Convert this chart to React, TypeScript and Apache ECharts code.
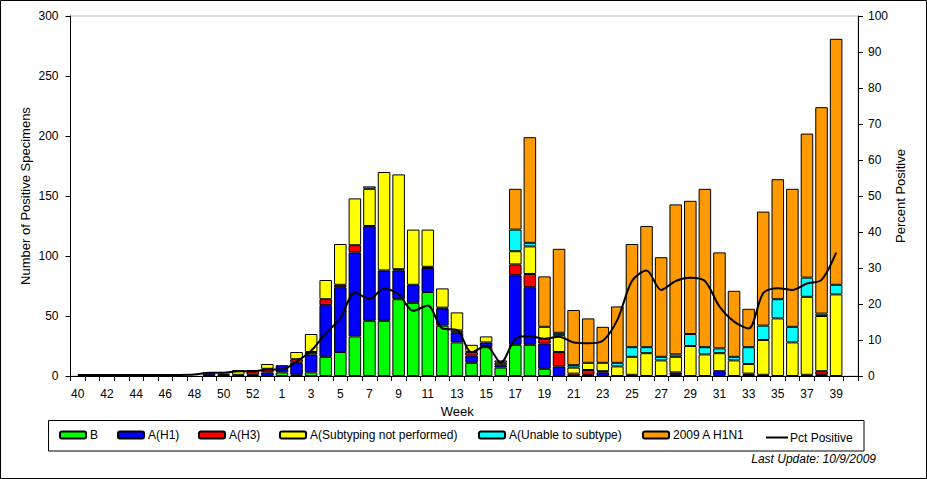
import React, { useEffect, useRef } from "react";
import * as echarts from "echarts";

// Week labels (MMWR weeks 40/2008 .. 39/2009, plus one empty trailing slot)
const weeks = [
  "40", "41", "42", "43", "44", "45", "46", "47", "48", "49", "50", "51", "52", "53",
  "1", "2", "3", "4", "5", "6", "7", "8", "9", "10", "11", "12", "13", "14", "15", "16",
  "17", "18", "19", "20", "21", "22", "23", "24", "25", "26", "27", "28", "29", "30",
  "31", "32", "33", "34", "35", "36", "37", "38", "39", "",
];

// Positive specimens by type (same order as weeks)
const fluB = [
  0, 0, 0, 0, 0, 0, 0, 0, 0, 0, 0, 0, 0, 0,
  3, 1, 3, 16, 20, 33, 46, 46, 64, 61, 70, 42, 28, 11, 24, 7,
  26, 26, 6, 0, 0, 1, 0, 0, 0, 0, 0, 1, 0, 0,
  0, 0, 0, 0, 0, 0, 0, 0, 0,
];
const aH1 = [
  0, 0, 0, 0, 0, 0, 0, 0, 0, 2, 1, 1, 1, 3,
  6, 10, 15, 43, 54, 70, 79, 42, 24, 15, 20, 14, 8, 6, 4, 2,
  58, 48, 21, 8, 0, 0, 3, 0, 1, 0, 0, 2, 0, 0,
  4, 0, 1, 1, 0, 0, 1, 1, 0,
];
const aH3 = [
  0, 0, 0, 0, 0, 0, 0, 0, 0, 0, 0, 0, 3, 3,
  0, 3, 2, 5, 2, 6, 0, 0, 1, 0, 1, 1, 2, 3, 0, 0,
  9, 11, 4, 12, 2, 4, 1, 0, 0, 0, 0, 0, 0, 0,
  0, 0, 1, 0, 0, 0, 0, 3, 0,
];
const aNotSubtyped = [
  0, 0, 0, 0, 0, 0, 0, 0, 0, 1, 1, 4, 1, 4,
  0, 6, 15, 16, 34, 39, 31, 82, 79, 46, 31, 16, 15, 6, 5, 2,
  11, 23, 10, 14, 5, 6, 7, 8, 15, 19, 13, 13, 25, 18,
  15, 13, 8, 29, 48, 28, 65, 46, 68,
];
const aUnable = [
  0, 0, 0, 0, 0, 0, 0, 0, 0, 0, 0, 0, 0, 0,
  0, 0, 0, 0, 0, 0, 2, 0, 0, 0, 0, 0, 0, 0, 0, 0,
  18, 3, 0, 2, 2, 0, 0, 3, 8, 5, 3, 2, 10, 6,
  4, 3, 14, 12, 16, 13, 16, 2, 8,
];
const h1n1_2009 = [
  0, 0, 0, 0, 0, 0, 0, 0, 0, 0, 0, 0, 0, 0,
  0, 0, 0, 0, 0, 0, 0, 0, 0, 0, 0, 0, 0, 0, 0, 2,
  34, 88, 42, 70, 46, 37, 30, 47, 86, 101, 83, 125, 111, 132,
  80, 55, 32, 95, 100, 115, 120, 172, 205,
];
// Percent positive (right axis)
const pctPositive = [
  0.3, 0.3, 0.3, 0.3, 0.3, 0.3, 0.3, 0.3, 0.4, 0.9, 0.9, 1.3, 1.3, 1.8,
  1.8, 4.0, 7.0, 11.8, 16.0, 23.2, 21.4, 24.3, 22.7, 18.1, 19.6, 13.2, 12.8, 6.6, 8.4, 3.7,
  10.3, 11.1, 10.3, 10.9, 9.3, 9.1, 9.8, 15.6, 26.4, 29.3, 23.9, 26.4, 27.3, 26.4,
  19.3, 15.1, 13.2, 23.0, 24.4, 23.9, 25.7, 26.7, 34.3,
];

const FONT = '"Liberation Sans", Arial, sans-serif';

const barDefs = [
  { name: "B", data: fluB, color: "#00FF00" },
  { name: "A(H1)", data: aH1, color: "#0000FF" },
  { name: "A(H3)", data: aH3, color: "#FF0000" },
  { name: "A(Subtyping not performed)", data: aNotSubtyped, color: "#FFFF00" },
  { name: "A(Unable to subtype)", data: aUnable, color: "#00FFFF" },
  { name: "2009 A H1N1", data: h1n1_2009, color: "#FF9900" },
];
const legendLefts = [59, 117, 198, 279, 478, 642, 766];

export default function App() {
  const ref = useRef<HTMLDivElement>(null);
  useEffect(() => {
    if (!ref.current) return;
    const chart = echarts.init(ref.current, null, { renderer: "svg" });
    const toNull = (arr: number[]) =>
      weeks.map((_, i) => (i < arr.length && arr[i] > 0 ? arr[i] : null));

    const series: any[] = barDefs.map((d) => ({
      name: d.name,
      type: "bar",
      stack: "total",
      barWidth: "86%",
      data: toNull(d.data),
      itemStyle: { color: d.color, borderColor: "#000", borderWidth: 1 },
      emphasis: { disabled: true },
    }));
    series.push({
      name: "Pct Positive",
      type: "line",
      yAxisIndex: 1,
      smooth: 0.3,
      symbol: "none",
      data: weeks.map((_, i) => (i < pctPositive.length ? pctPositive[i] : null)),
      lineStyle: { color: "#000", width: 2 },
      itemStyle: { color: "#000" },
      z: 5,
    });

    const allNames = [...barDefs.map((d) => d.name), "Pct Positive"];
    const legends = allNames.map((n, i) => ({
      data: [i === 6 ? { name: n, icon: "rect", itemStyle: { color: "#000", borderWidth: 0 } } : n],
      left: legendLefts[i],
      top: i === 6 ? 431.5 : 429,
      padding: 0,
      itemWidth: i === 6 ? 22 : 26,
      itemHeight: i === 6 ? 2 : 7,
      itemGap: 4,
      selectedMode: false,
      textStyle: {
        color: "#000",
        fontSize: 12,
        fontFamily: FONT,
        padding: [0, 0, 0, i === 6 ? -3 : -1],
      },
    }));

    const nameStyle = { color: "#000", fontSize: 13, fontFamily: FONT };

    chart.setOption({
      animation: false,
      backgroundColor: "#ffffff",
      textStyle: { fontFamily: FONT },
      grid: {
        left: 70.5,
        right: 69,
        top: 16,
        bottom: 103,
        show: true,
        borderColor: "#c0c0c0",
        borderWidth: 1,
        containLabel: false,
        outerBoundsMode: "none",
      },
      legend: legends,
      xAxis: {
        type: "category",
        data: weeks,
        boundaryGap: true,
        name: "Week",
        nameLocation: "middle",
        nameGap: 29,
        nameMoveOverlap: false,
        nameTextStyle: { ...nameStyle, padding: [0, 14, 0, 0] },
        axisLine: { show: true, lineStyle: { color: "#000", width: 1 } },
        axisTick: { show: true, interval: 0, length: 5, lineStyle: { color: "#000" } },
        axisLabel: { interval: 1, color: "#000", fontSize: 12, margin: 12, fontFamily: FONT },
        splitLine: { show: false },
      },
      yAxis: [
        {
          type: "value",
          min: 0,
          max: 300,
          interval: 50,
          name: "Number of Positive Specimens",
          nameLocation: "middle",
          nameGap: 39,
          nameMoveOverlap: false,
          nameTextStyle: nameStyle,
          axisLine: { show: true, lineStyle: { color: "#000", width: 1 } },
          axisTick: { show: true, length: 5, lineStyle: { color: "#000" } },
          axisLabel: { color: "#000", fontSize: 12, margin: 12, fontFamily: FONT },
          splitLine: { show: false },
        },
        {
          type: "value",
          position: "right",
          min: 0,
          max: 100,
          interval: 10,
          name: "Percent Positive",
          nameLocation: "middle",
          nameGap: 36,
          nameMoveOverlap: false,
          nameTextStyle: nameStyle,
          axisLine: { show: true, lineStyle: { color: "#000", width: 1 } },
          axisTick: { show: true, length: 5, lineStyle: { color: "#000" } },
          axisLabel: { color: "#000", fontSize: 12, margin: 10, fontFamily: FONT },
          splitLine: { show: false },
        },
      ],
      series,
      graphic: [
        {
          type: "rect",
          shape: { x: 0.5, y: 0.5, width: 926, height: 478 },
          style: { fill: "none", stroke: "#000", lineWidth: 1 },
          silent: true,
        },
        {
          type: "rect",
          shape: { x: 48.5, y: 420.5, width: 815.5, height: 30.5 },
          style: { fill: "none", stroke: "#000", lineWidth: 1 },
          silent: true,
          z: -1,
        },
        {
          type: "text",
          x: 876,
          y: 459,
          style: {
            text: "Last Update: 10/9/2009",
            align: "right",
            verticalAlign: "middle",
            fontSize: 12,
            fontStyle: "italic",
            fontFamily: FONT,
            fill: "#000",
          },
          silent: true,
        },
      ],
    });
    return () => chart.dispose();
  }, []);
  return (
    <div
      ref={ref}
      style={{ position: "absolute", left: 0, top: 0, width: 927, height: 479 }}
    />
  );
}
